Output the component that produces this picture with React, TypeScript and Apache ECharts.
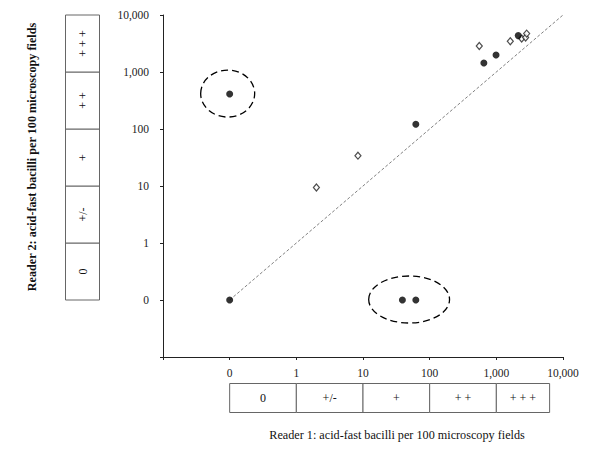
import React, { useEffect, useRef } from 'react';
import * as echarts from 'echarts';

// Tick labels for positions -2..4 (log units; "0" is drawn at -1)
const tickLabels = ['', '0', '1', '10', '100', '1,000', '10,000'];

// Filled points (reader 1 count, reader 2 count)
const filledR1 = [0, 0, 39, 62, 62, 650, 990, 2130];
const filledR2 = [0, 410, 0, 0, 121, 1440, 1990, 4350];

// Open diamonds
const openR1 = [2.0, 8.4, 555, 1620, 2400, 2750, 2850];
const openR2 = [9.4, 34, 2860, 3460, 3860, 4020, 4720];

// Identity line endpoints (counts)
const identityLine = [0, 10000];

// Outlier groups (indices into filled arrays), circled with dashed ellipses
const outlierGroups = [[1], [2, 3]];

// Category boxes
const yBoxLabels = ['0', '+/-', '+', '+ +', '+ + +'];
const yBoxEdges = [0, 1, 10, 100, 1000, 10000];
const xBoxLabels = ['0', '+/-', '+', '+ +', '+ + +'];
const xBoxEdges = [0, 1, 10, 100, 1000, 6300];

const xTitle = 'Reader 1: acid-fast bacilli per 100 microscopy fields';
const yTitle = 'Reader 2: acid-fast bacilli per 100 microscopy fields';

const toLog = (v: number) => (v <= 0 ? -1 : Math.log10(v));
const FONT = '"Liberation Serif", "Times New Roman", serif';

export default function App() {
  const ref = useRef<HTMLDivElement>(null);
  useEffect(() => {
    if (!ref.current) return;
    const chart = echarts.init(ref.current, undefined, { renderer: 'svg' });
    const fmt = (v: number) => {
      const i = Math.round(v) + 2;
      return tickLabels[i] ?? '';
    };
    const axisCommon = {
      type: 'value',
      min: -2,
      max: 4,
      interval: 1,
      splitLine: { show: false },
      axisLine: { show: true, onZero: false, lineStyle: { color: '#222', width: 1 } },
      axisTick: { show: true, length: 3, lineStyle: { color: '#222' } },
    };
    const groupData = outlierGroups.map((g) => {
      const xs = g.map((i) => toLog(filledR1[i]));
      const y = toLog(filledR2[g[0]]);
      return [Math.min(...xs), y, Math.max(...xs)];
    });
    chart.setOption({
      animation: false,
      textStyle: { fontFamily: FONT },
      grid: { left: 163, top: 15, width: 400, height: 342, containLabel: false, outerBoundsMode: 'none' },
      xAxis: {
        ...axisCommon,
        axisLabel: { formatter: fmt, fontFamily: FONT, fontSize: 11.5, color: '#222', margin: 10 },
      },
      yAxis: {
        ...axisCommon,
        axisLabel: { formatter: fmt, fontFamily: FONT, fontSize: 11.5, color: '#222', margin: 14 },
      },
      series: [
        {
          type: 'line',
          silent: true,
          showSymbol: false,
          data: identityLine.map((v) => [toLog(v), toLog(v)]),
          lineStyle: { color: '#808080', width: 1, type: [3, 2] },
        },
        {
          type: 'custom',
          clip: false,
          silent: true,
          data: groupData,
          renderItem: (params: any, api: any) => {
            const p1 = api.coord([api.value(0), api.value(1)]);
            const p2 = api.coord([api.value(2), api.value(1)]);
            const span = p2[0] - p1[0];
            const cx = (p1[0] + p2[0]) / 2 - (span === 0 ? 2 : 0);
            return {
              type: 'ellipse',
              shape: { cx, cy: p1[1] - 0.5, rx: 27 + span, ry: 23.5 },
              style: { fill: 'none', stroke: '#000', lineWidth: 1.3, lineDash: [7, 4] },
            };
          },
        },
        {
          type: 'scatter',
          symbol: 'diamond',
          symbolSize: [6, 7],
          data: openR1.map((v, i) => [toLog(v), toLog(openR2[i])]),
          itemStyle: { color: '#fff', borderColor: '#222', borderWidth: 1.2 },
          z: 3,
        },
        {
          type: 'scatter',
          symbol: 'circle',
          symbolSize: 7,
          data: filledR1.map((v, i) => [toLog(v), toLog(filledR2[i])]),
          itemStyle: { color: '#000' },
          z: 4,
        },
      ],
    });

    // Category boxes and titles, placed with the chart's own scales
    const px = (x: number, y: number) => chart.convertToPixel({ gridIndex: 0 }, [x, y]) as number[];
    const textStyle = (text: string, font: string) => ({
      text,
      font,
      fill: '#111',
      align: 'center',
      verticalAlign: 'middle',
    });
    const graphics: any[] = [];
    yBoxLabels.forEach((label, i) => {
      const top = px(0, toLog(yBoxEdges[i + 1]))[1];
      const bottom = px(0, toLog(yBoxEdges[i]))[1];
      graphics.push({
        type: 'rect',
        silent: true,
        shape: { x: 65.5, y: top, width: 34, height: bottom - top },
        style: { fill: '#fff', stroke: '#666', lineWidth: 1 },
      });
      graphics.push({
        type: 'text',
        silent: true,
        x: 82.5,
        y: (top + bottom) / 2,
        rotation: Math.PI / 2,
        style: textStyle(label, '12px ' + FONT),
      });
    });
    xBoxLabels.forEach((label, i) => {
      const left = px(toLog(xBoxEdges[i]), 0)[0];
      const right = px(toLog(xBoxEdges[i + 1]), 0)[0];
      graphics.push({
        type: 'rect',
        silent: true,
        shape: { x: left, y: 383.5, width: right - left, height: 29 },
        style: { fill: '#fff', stroke: '#666', lineWidth: 1 },
      });
      graphics.push({
        type: 'text',
        silent: true,
        x: (left + right) / 2,
        y: 398,
        style: textStyle(label, '12px ' + FONT),
      });
    });
    graphics.push({
      type: 'text',
      silent: true,
      x: 397,
      y: 435,
      style: textStyle(xTitle, '12.2px ' + FONT),
    });
    graphics.push({
      type: 'text',
      silent: true,
      x: 32,
      y: 157,
      rotation: Math.PI / 2,
      style: textStyle(yTitle, 'bold 12.2px ' + FONT),
    });
    chart.setOption({ graphic: graphics });

    return () => chart.dispose();
  }, []);
  return (
    <div
      ref={ref}
      style={{ position: 'fixed', left: 0, top: 0, width: 600, height: 450, background: '#fff' }}
    />
  );
}
